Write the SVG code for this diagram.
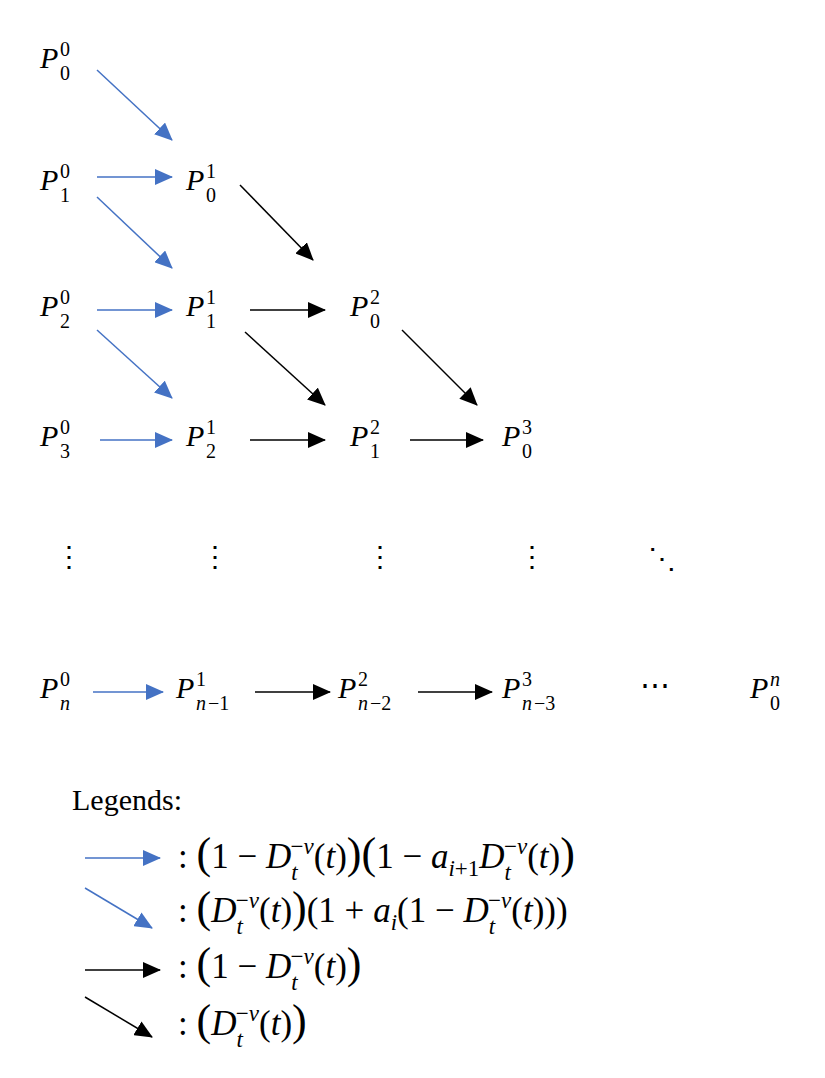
<svg xmlns="http://www.w3.org/2000/svg" width="825" height="1078" viewBox="0 0 825 1078">
<defs>
<marker id="hb" markerUnits="userSpaceOnUse" markerWidth="18" markerHeight="16" viewBox="0 0 18 16" refX="17" refY="8" orient="auto"><path d="M0,0 L18,8 L0,16 Z" fill="#4472C4"/></marker>
<marker id="hk" markerUnits="userSpaceOnUse" markerWidth="18" markerHeight="16" viewBox="0 0 18 16" refX="17" refY="8" orient="auto"><path d="M0,0 L18,8 L0,16 Z" fill="#000"/></marker>
</defs>
<style>
text{font-family:"Liberation Serif","DejaVu Serif",serif;fill:#000}
.p{font-size:30px;font-style:italic}
.s{font-size:20px}
.si{font-size:20px;font-style:italic}
.ls{font-size:23px}
.lsi{font-size:23px;font-style:italic}
.b{stroke:#4472C4;stroke-width:1.5;fill:none;marker-end:url(#hb)}
.k{stroke:#000;stroke-width:1.5;fill:none;marker-end:url(#hk)}
.f{font-size:30px}
.lf{font-size:35px}
.fi{font-style:italic}
.big{font-size:44px}
.d{font-size:28px}
</style>
<g id="connectors">
<line class="b" x1="97" y1="70" x2="172" y2="140"/>
<line class="b" x1="97" y1="177" x2="172" y2="177"/>
<line class="b" x1="97" y1="197" x2="172" y2="268"/>
<line class="b" x1="97" y1="310" x2="172" y2="310"/>
<line class="b" x1="97" y1="330" x2="172" y2="398"/>
<line class="b" x1="100" y1="440" x2="172" y2="440"/>
<line class="k" x1="240" y1="185" x2="313" y2="260"/>
<line class="k" x1="250" y1="310" x2="325" y2="310"/>
<line class="k" x1="245" y1="332" x2="325" y2="405"/>
<line class="k" x1="250" y1="440" x2="325" y2="440"/>
<line class="k" x1="402" y1="330" x2="477" y2="405"/>
<line class="k" x1="410" y1="440" x2="483" y2="440"/>
<line class="b" x1="93" y1="692" x2="163" y2="692"/>
<line class="k" x1="255" y1="692" x2="330" y2="692"/>
<line class="k" x1="418" y1="692" x2="492" y2="692"/>
</g>
<g id="P00"><text class="p" x="40" y="68">P</text><text class="s" x="60" y="56">0</text><text class="s" x="60" y="80">0</text></g>
<g id="P10"><text class="p" x="40" y="190">P</text><text class="s" x="60" y="178">0</text><text class="s" x="60" y="202">1</text></g>
<g id="P01"><text class="p" x="186" y="190">P</text><text class="s" x="206" y="178">1</text><text class="s" x="206" y="202">0</text></g>
<g id="P20"><text class="p" x="40" y="316">P</text><text class="s" x="60" y="304">0</text><text class="s" x="60" y="328">2</text></g>
<g id="P11"><text class="p" x="186" y="316">P</text><text class="s" x="206" y="304">1</text><text class="s" x="206" y="328">1</text></g>
<g id="P02"><text class="p" x="350" y="316">P</text><text class="s" x="370" y="304">2</text><text class="s" x="370" y="328">0</text></g>
<g id="P30"><text class="p" x="40" y="446">P</text><text class="s" x="60" y="434">0</text><text class="s" x="60" y="458">3</text></g>
<g id="P21"><text class="p" x="186" y="446">P</text><text class="s" x="206" y="434">1</text><text class="s" x="206" y="458">2</text></g>
<g id="P12"><text class="p" x="350" y="446">P</text><text class="s" x="370" y="434">2</text><text class="s" x="370" y="458">1</text></g>
<g id="P03"><text class="p" x="502" y="446">P</text><text class="s" x="522" y="434">3</text><text class="s" x="522" y="458">0</text></g>
<g id="dots">
<text class="d" x="55" y="566">⋮</text><text class="d" x="201" y="566">⋮</text><text class="d" x="366" y="566">⋮</text><text class="d" x="518" y="566">⋮</text><text class="d" x="648" y="568">⋱</text>
<text class="f" x="640" y="695">⋯</text>
</g>
<g id="Pn0"><text class="p" x="40" y="698">P</text><text class="s" x="60" y="686">0</text><text class="si" x="60" y="710">n</text></g>
<g id="Pn11"><text class="p" x="176" y="698">P</text><text class="s" x="196" y="686">1</text><text class="si" x="196" y="710">n</text><text class="s" x="208" y="710">−1</text></g>
<g id="Pn22"><text class="p" x="338" y="698">P</text><text class="s" x="358" y="686">2</text><text class="si" x="358" y="710">n</text><text class="s" x="370" y="710">−2</text></g>
<g id="Pn33"><text class="p" x="502" y="698">P</text><text class="s" x="522" y="686">3</text><text class="si" x="522" y="710">n</text><text class="s" x="534" y="710">−3</text></g>
<g id="P0n"><text class="p" x="750" y="698">P</text><text class="si" x="770" y="686">n</text><text class="s" x="770" y="710">0</text></g>
<g id="legend">
<text class="f" x="72" y="810">Legends:</text>
<line class="b" x1="85" y1="858" x2="160" y2="858"/>
<line class="b" x1="85" y1="888" x2="152" y2="928"/>
<line class="k" x1="85" y1="970" x2="160" y2="970"/>
<line class="k" x1="85" y1="997" x2="152" y2="1037"/>
<text class="lf" x="178" y="868">: <tspan class="big">(</tspan>1 − <tspan class="fi">D</tspan><tspan class="lsi" dy="12">t</tspan><tspan class="ls" dx="-7" dy="-26">−</tspan><tspan class="lsi">v</tspan><tspan dy="14">(<tspan class="fi">t</tspan>)</tspan><tspan class="big">)(</tspan>1 − <tspan class="fi">a</tspan><tspan class="lsi" dy="8">i</tspan><tspan class="ls">+1</tspan><tspan class="fi" dy="-8">D</tspan><tspan class="lsi" dy="12">t</tspan><tspan class="ls" dx="-7" dy="-26">−</tspan><tspan class="lsi">v</tspan><tspan dy="14">(<tspan class="fi">t</tspan>)</tspan><tspan class="big">)</tspan></text>
<text class="lf" x="178" y="922">: <tspan class="big">(</tspan><tspan class="fi">D</tspan><tspan class="lsi" dy="12">t</tspan><tspan class="ls" dx="-7" dy="-26">−</tspan><tspan class="lsi">v</tspan><tspan dy="14">(<tspan class="fi">t</tspan>)</tspan><tspan class="big">)</tspan>(1 + <tspan class="fi">a</tspan><tspan class="lsi" dy="8">i</tspan><tspan dy="-8">(1 − </tspan><tspan class="fi">D</tspan><tspan class="lsi" dy="12">t</tspan><tspan class="ls" dx="-7" dy="-26">−</tspan><tspan class="lsi">v</tspan><tspan dy="14">(<tspan class="fi">t</tspan>)))</tspan></text>
<text class="lf" x="178" y="978">: <tspan class="big">(</tspan>1 − <tspan class="fi">D</tspan><tspan class="lsi" dy="12">t</tspan><tspan class="ls" dx="-7" dy="-26">−</tspan><tspan class="lsi">v</tspan><tspan dy="14">(<tspan class="fi">t</tspan>)</tspan><tspan class="big">)</tspan></text>
<text class="lf" x="178" y="1035">: <tspan class="big">(</tspan><tspan class="fi">D</tspan><tspan class="lsi" dy="12">t</tspan><tspan class="ls" dx="-7" dy="-26">−</tspan><tspan class="lsi">v</tspan><tspan dy="14">(<tspan class="fi">t</tspan>)</tspan><tspan class="big">)</tspan></text>
</g>
</svg>
